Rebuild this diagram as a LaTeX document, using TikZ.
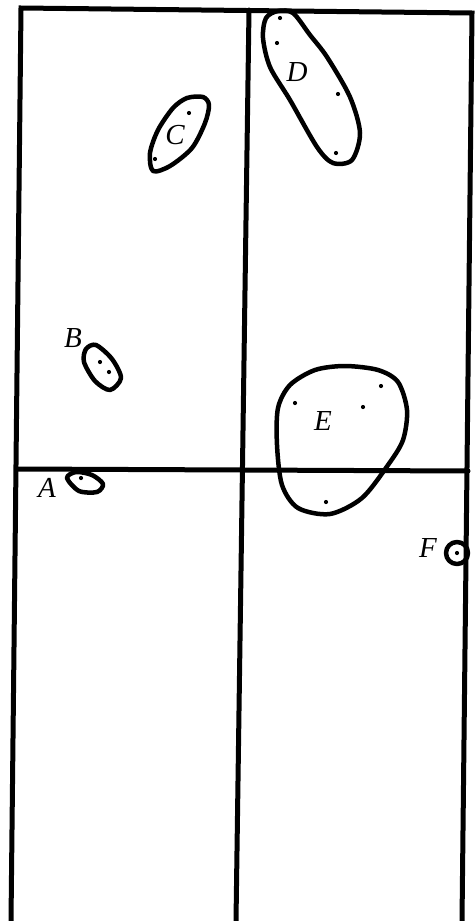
\documentclass[tikz,border=0pt]{standalone}
\usepackage{fontspec}
\setmainfont{Liberation Serif}
\usepackage{tikz}
\usetikzlibrary{positioning, calc}

\tikzset{
  frameline/.style={line width=5pt, line cap=round},
  cluster/.style={line width=4.5pt, line join=round},
  pt/.style={fill=black},
  lab/.style={font=\fontsize{29}{31}\selectfont\itshape, inner sep=0pt}
}

\begin{document}
\begin{tikzpicture}[x=1pt, y=-1pt]
          \useasboundingbox (0,0) rectangle (474,921);
          % frame
          \coordinate (tl) at (21,8);
          \coordinate (tm) at (249,10);
          \coordinate (tr) at (472,13);
          \coordinate (bl) at (11,921);
          \coordinate (bm) at (236,921);
          \coordinate (br) at (462,921);
          \coordinate (ml) at (17,469);
          \coordinate (mr) at (468,471);
          \draw[frameline] (bl) -- (tl) -- (tr) -- (br);
          \draw[frameline] (tm) -- (bm);
          \draw[frameline] (ml) -- (mr);
          % clusters
          \draw[cluster] plot[smooth cycle] coordinates
            {(150,153) (158,130) (173,108) (187,98) (203,97) (209,105) (205,123) (192,148) (170,166) (153,171)};
          \draw[cluster] plot[smooth cycle] coordinates
            {(263,38) (266,18) (278,11) (293,13) (310,35) (327,57) (350,97) (360,133) (352,160) (333,163) (317,147) (290,100) (270,67)};
          \draw[cluster] plot[smooth cycle] coordinates
            {(86,349) (96,345) (112,359) (121,378) (110,390) (95,381) (84,362)};
          \draw[cluster] plot[smooth cycle] coordinates
            {(278,408) (290,385) (315,370) (345,366) (378,370) (398,382) (407,410) (403,440) (388,465) (362,498) (330,514) (298,508) (282,485) (277,445)};
          \draw[cluster] plot[smooth cycle] coordinates
            {(67,478) (76,472) (92,475) (103,484) (97,492) (79,491)};
          \draw[cluster] (457,553) circle (11);
          % points
          \foreach \p in {(189,113), (155,159), (280,18), (277,43), (338,94), (336,153),
                          (100,362), (109,372), (295,403), (363,407), (381,386), (326,502),
                          (81,478), (457,553)}
            \fill[pt] \p circle (2.1);
          % labels
          \node[lab] (labC) at (175,135) {C};
          \node[lab] (labD) at (297,72) {D};
          \node[lab] (labB) at (73,338) {B};
          \node[lab] (labE) at (323,421) {E};
          \node[lab] (labA) at (47,488) {A};
          \node[lab] (labF) at (428,548) {F};
\end{tikzpicture}
\end{document}
